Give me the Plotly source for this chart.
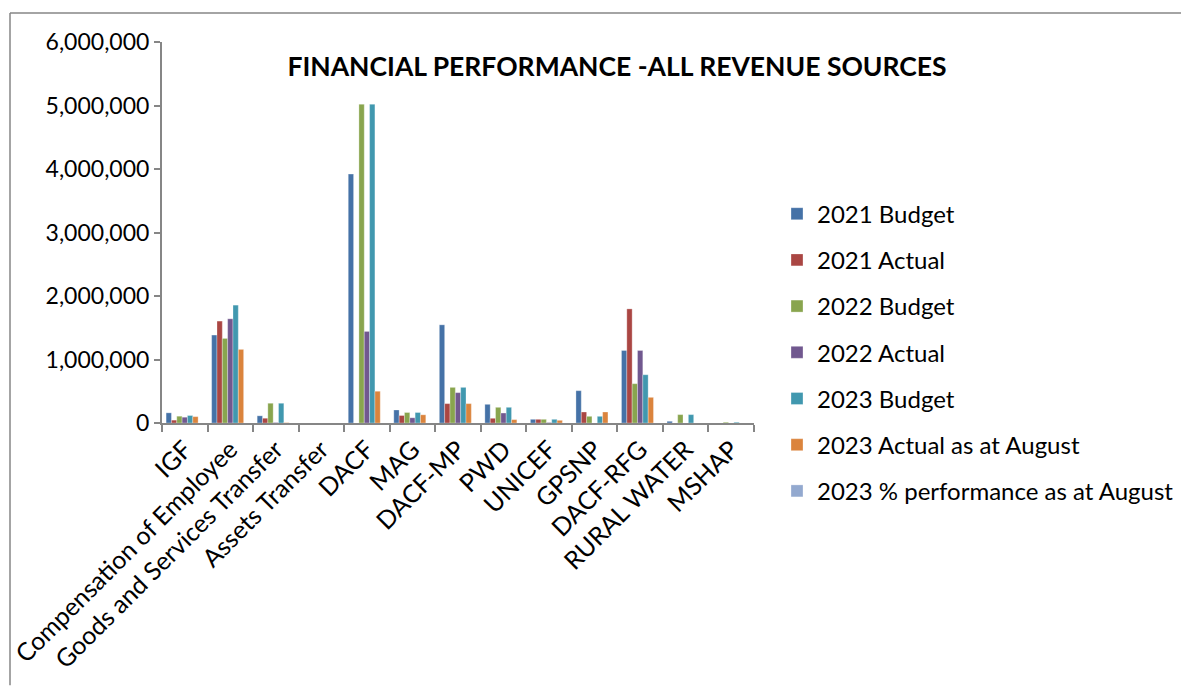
import plotly.graph_objects as go

categories = [
    "IGF", "Compensation of Employee", "Goods and Services Transfer",
    "Assets Transfer", "DACF", "MAG", "DACF-MP", "PWD", "UNICEF",
    "GPSNP", "DACF-RFG", "RURAL WATER", "MSHAP",
]

budget_2021 = [160000, 1385000, 113000, 0, 3920000, 205000, 1546000, 294000, 58000, 509000, 1142000, 27000, 0]
actual_2021 = [45000, 1605000, 75000, 0, 0, 118000, 305000, 74000, 58000, 173000, 1797000, 0, 0]
budget_2022 = [107000, 1332000, 311000, 0, 5020000, 165000, 561000, 247000, 58000, 105000, 619000, 132000, 12000]
actual_2022 = [91000, 1641000, 8000, 0, 1442000, 82000, 478000, 157000, 8000, 0, 1142000, 0, 0]
budget_2023 = [118000, 1856000, 311000, 0, 5020000, 165000, 561000, 247000, 58000, 105000, 760000, 132000, 12000]
actual_2023_aug = [100000, 1159000, 6000, 0, 500000, 129000, 305000, 53000, 42000, 173000, 404000, 0, 0]
perf_2023_aug = [60, 62, 2, 0, 10, 78, 54, 21, 72, 165, 53, 0, 0]

series_names = [
    "2021 Budget", "2021 Actual", "2022 Budget", "2022 Actual",
    "2023 Budget", "2023 Actual as at August", "2023 % performance as at August",
]
series_values = [
    budget_2021, actual_2021, budget_2022, actual_2022,
    budget_2023, actual_2023_aug, perf_2023_aug,
]
colors = ["#4572A7", "#AA4643", "#89A54E", "#71588F", "#4198AF", "#DB843D", "#93A9CF"]

FONT = "Lato, 'Open Sans', sans-serif"

# page body has an 8px margin, so the figure is laid out 8px up/left
W, H = 1181, 678
PL, PR, PT, PB = 154, 746, 34, 415.5
PW, PH = PR - PL, PB - PT

fig = go.Figure()

for i, (name, values, color) in enumerate(zip(series_names, series_values, colors)):
    fig.add_trace(
        go.Bar(
            x=categories,
            y=values,
            name=name,
            marker=dict(color=color, line=dict(color="rgba(255,255,255,0.6)", width=0.5)),
            legendgroup=f"g{i}",
        )
    )

# chart-area border: only the left and top edges are inside the picture
border_x = (2 - PL) / PW
border_y = 1 + (PT - 5) / PH
border = dict(color="#868686", width=1.5)

fig.update_layout(
    width=W,
    height=H,
    paper_bgcolor="#fff",
    plot_bgcolor="#fff",
    font=dict(family=FONT, size=23, color="#000"),
    barmode="group",
    bargap=0.18,
    bargroupgap=0,
    margin=dict(l=PL, r=W - PR, t=PT, b=H - PB, autoexpand=False),
    title=dict(
        text="<b>FINANCIAL PERFORMANCE -ALL REVENUE SOURCES</b>",
        font=dict(family=FONT, size=26.5, color="#000"),
        x=609 / W,
        xanchor="center",
        y=1 - 59 / H,
        yanchor="middle",
    ),
    xaxis=dict(
        showgrid=False,
        showline=True,
        linecolor="#868686",
        linewidth=2,
        ticks="outside",
        tickson="boundaries",
        ticklen=7,
        tickcolor="#868686",
        tickwidth=2,
        tickangle=-45,
        tickfont=dict(size=25),
    ),
    yaxis=dict(
        range=[0, 6000000],
        dtick=1000000,
        tickformat=",",
        showgrid=False,
        zeroline=False,
        showline=True,
        linecolor="#868686",
        linewidth=2,
        ticks="outside",
        ticklen=6,
        tickcolor="#868686",
        tickwidth=2,
        tickfont=dict(size=23),
    ),
    legend=dict(
        x=(769 - PL) / PW,
        xanchor="left",
        y=(PB - 345) / PH,
        yanchor="middle",
        tracegroupgap=12,
        font=dict(size=24),
        bgcolor="rgba(0,0,0,0)",
        itemwidth=30,
    ),
    shapes=[
        dict(type="line", xref="paper", yref="paper",
             x0=border_x, x1=border_x, y0=(PB - H) / PH, y1=border_y,
             line=border, layer="below"),
        dict(type="line", xref="paper", yref="paper",
             x0=border_x, x1=(W - PL) / PW, y0=border_y, y1=border_y,
             line=border, layer="below"),
    ],
)

# the figure runs off the window edge on purpose; hide the scrollbars
fig.write_html("out.html", post_script="document.body.style.overflow = 'hidden';")
